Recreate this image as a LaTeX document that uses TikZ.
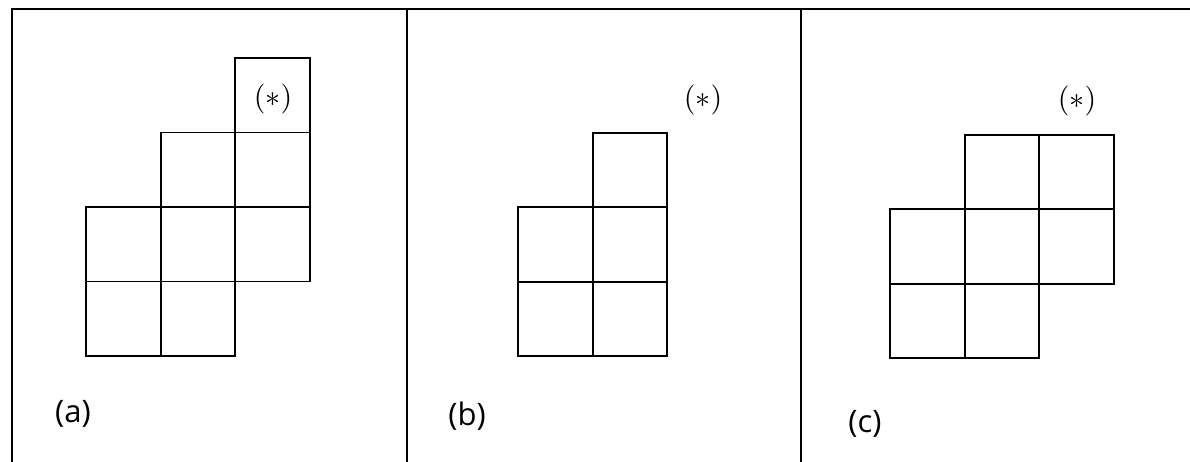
\documentclass[tikz,border=0pt]{standalone}
\usepackage{fontspec}
\newfontfamily\labelfont{Open Sans}
\newcommand{\starmark}{\scalebox{3}{$(\ast)$}}
\begin{document}
\begin{tikzpicture}[x=1pt,y=-1pt,
  cell/.style={draw,line width=1.6pt,minimum size=74.5pt,inner sep=0pt,outer sep=0pt},
  frame/.style={line width=1.8pt},
  tag/.style={font=\labelfont\fontsize{31}{36}\selectfont,inner sep=0pt},
  star/.style={inner sep=0pt}]
\useasboundingbox (0,0) rectangle (1190,462);
% frame
\coordinate (tl) at (12,9);
\coordinate (tr) at (1190,9);
\coordinate (bl) at (12,462);
\coordinate (d1t) at (407,9);
\coordinate (d1b) at (407,462);
\coordinate (d2t) at (801,9);
\coordinate (d2b) at (801,462);
\draw[frame] (bl) -- (tl) -- (tr);
\draw[frame] (d1t) -- (d1b);
\draw[frame] (d2t) -- (d2b);
% (a)
\node[cell] (a02) at (272.5,95.25) {};
\node[cell] (a11) at (198,169.75) {};
\node[cell] (a12) at (272.5,169.75) {};
\node[cell] (a20) at (123.5,244.25) {};
\node[cell] (a21) at (198,244.25) {};
\node[cell] (a22) at (272.5,244.25) {};
\node[cell] (a30) at (123.5,318.75) {};
\node[cell] (a31) at (198,318.75) {};
\node[star] (sa) at (273,99) {\starmark};
\node[tag] (la) at (73,414) {(a)};
% (b)
\node[cell] (b11) at (630,170) {};
\node[cell] (b20) at (555.5,244.5) {};
\node[cell] (b21) at (630,244.5) {};
\node[cell] (b30) at (555.5,319) {};
\node[cell] (b31) at (630,319) {};
\node[star] (sb) at (703,100) {\starmark};
\node[tag] (lb) at (467,416) {(b)};
% (c)
\node[cell] (c11) at (1002,172) {};
\node[cell] (c12) at (1076.5,172) {};
\node[cell] (c20) at (927.5,246.5) {};
\node[cell] (c21) at (1002,246.5) {};
\node[cell] (c22) at (1076.5,246.5) {};
\node[cell] (c30) at (927.5,321) {};
\node[cell] (c31) at (1002,321) {};
\node[star] (sc) at (1077,101) {\starmark};
\node[tag] (lc) at (865,424) {(c)};
\end{tikzpicture}
\end{document}
